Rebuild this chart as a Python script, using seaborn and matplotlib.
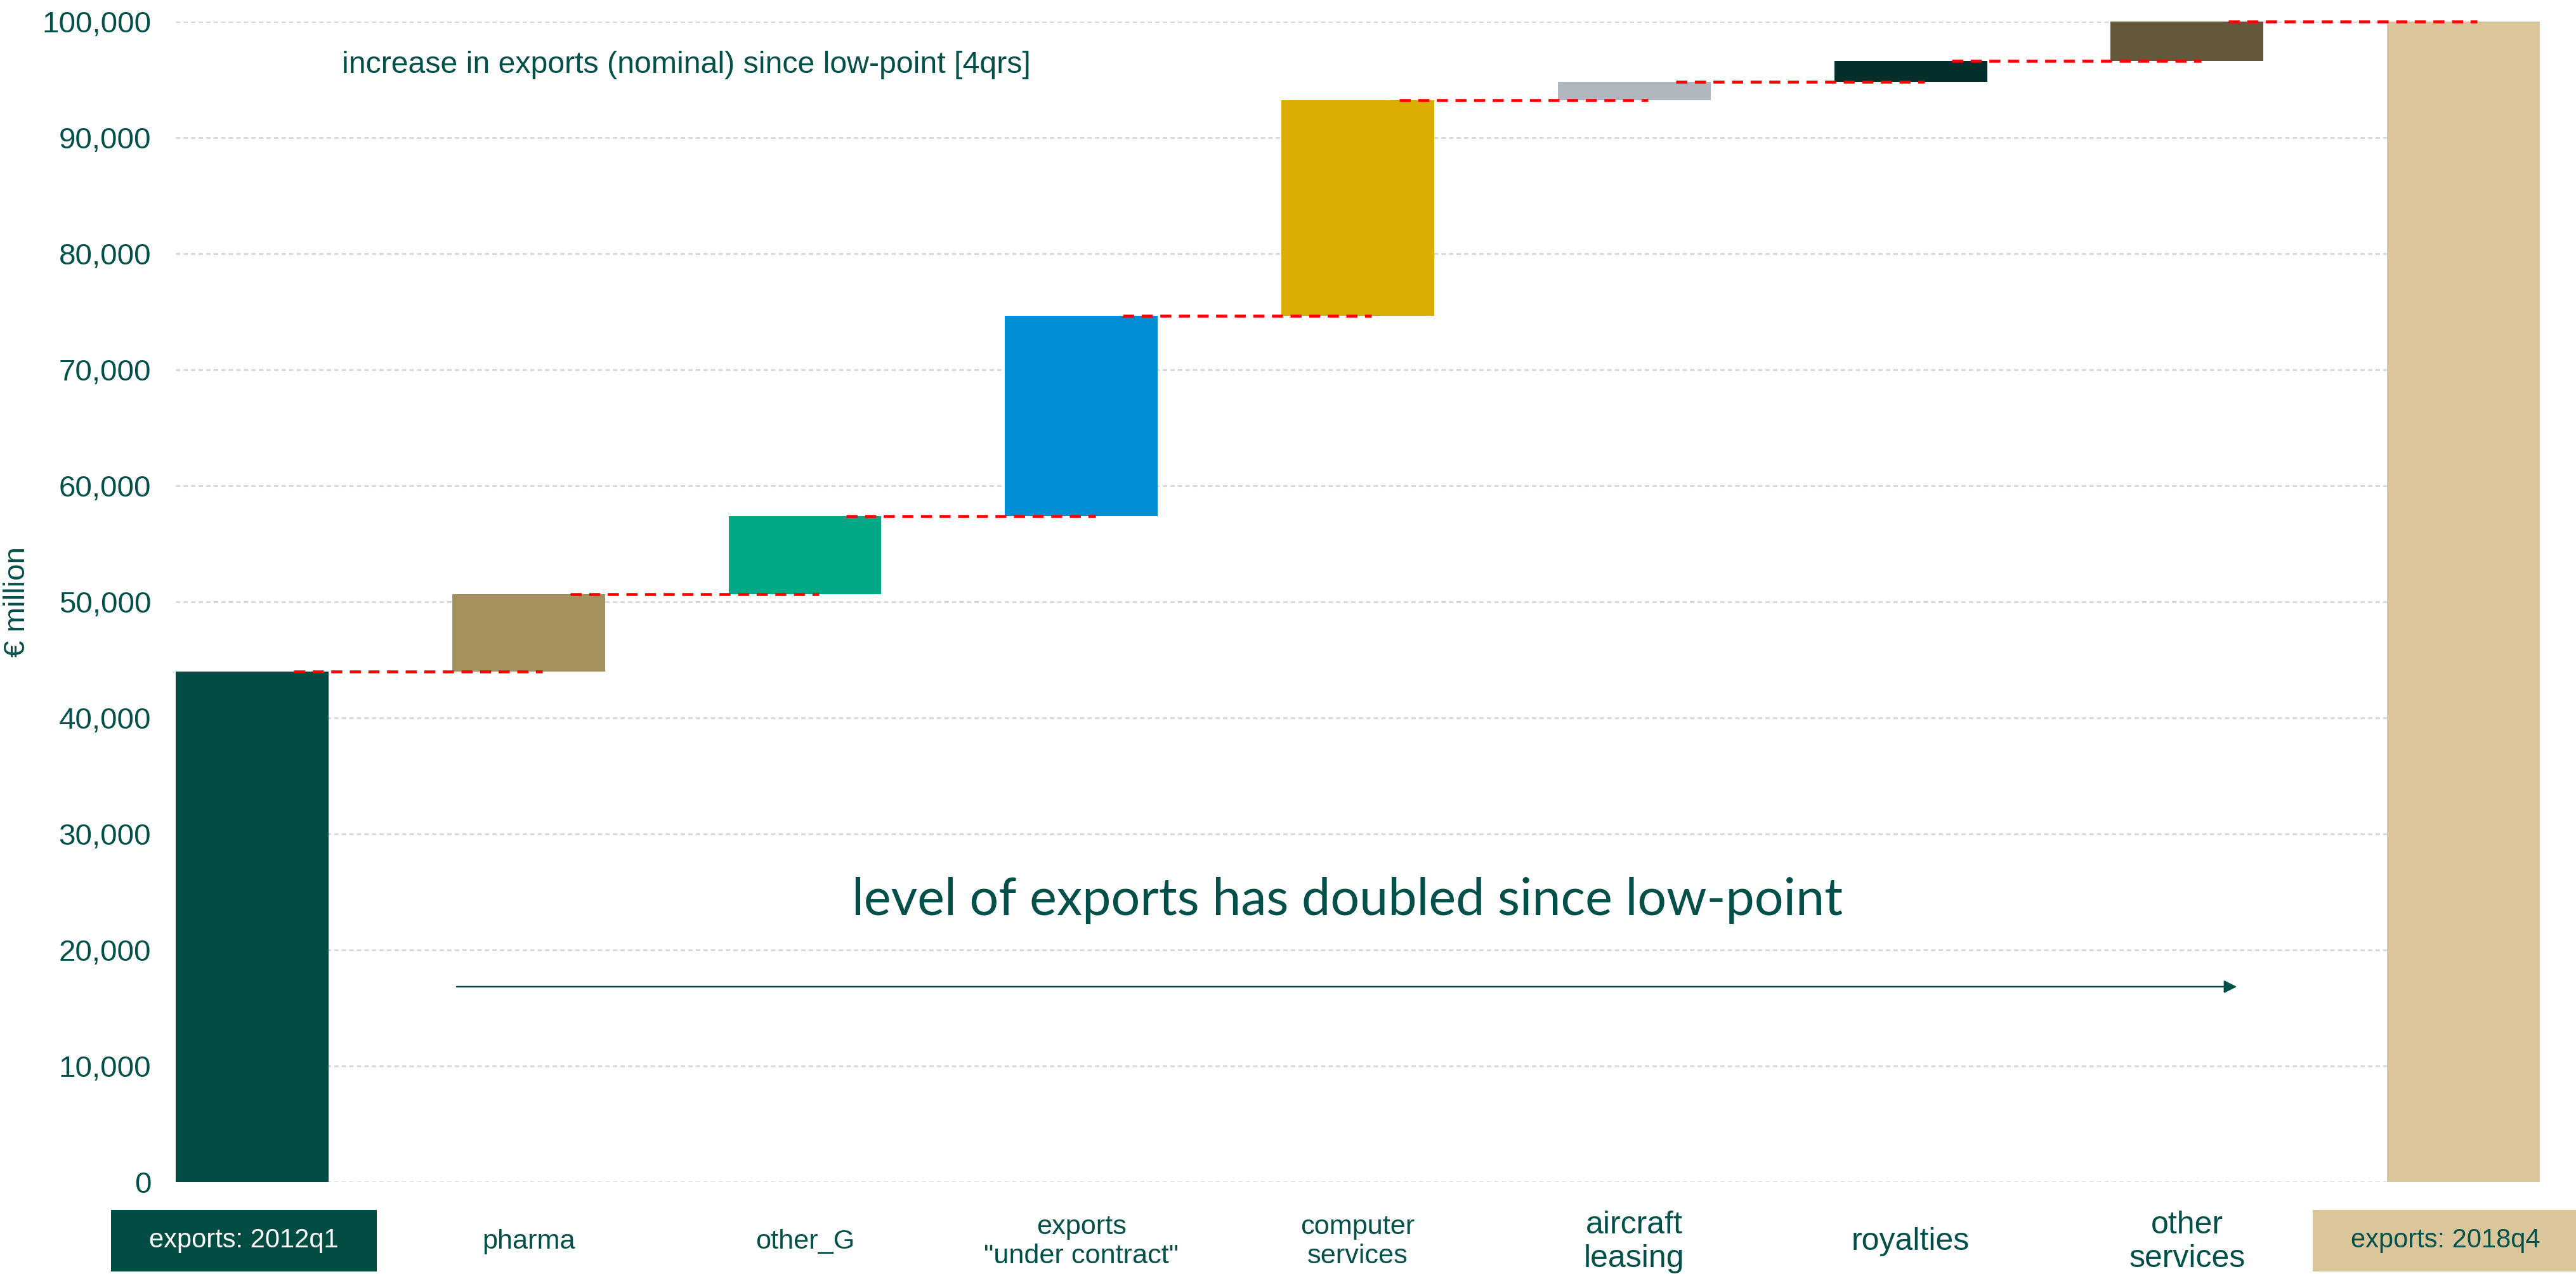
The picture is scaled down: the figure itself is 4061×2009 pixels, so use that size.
import numpy as np
import pandas as pd
import matplotlib
matplotlib.use("Agg")
import matplotlib.pyplot as plt
import matplotlib.transforms as mtransforms
from matplotlib.patches import Rectangle
from matplotlib.ticker import FuncFormatter, MultipleLocator
import seaborn as sns

# ---- data (EUR million) ----
categories = [
    "exports: 2012q1", "pharma", "other_G", 'exports\n"under contract"',
    "computer\nservices", "aircraft\nleasing", "royalties", "other\nservices",
    "exports: 2018q4",
]
start_level = 44000
increments = [6650, 6730, 17270, 18580, 1590, 1800, 3380]
end_level = 100000

bar_colors = [
    "#024D43", "#A5915E", "#02A886", "#008FD5", "#DBAD00",
    "#B0B6BD", "#032E2C", "#64583A", "#DAC69A",
]
text_green = "#03504A"
label_sizes = [10, 10.4, 10.4, 10.4, 10.4, 12, 12, 12, 10]

# bar heights and bottoms for the waterfall
levels = np.cumsum([start_level] + increments)
heights = [start_level] + increments + [end_level]
bottoms = [0] + list(levels[:-1]) + [0]
df = pd.DataFrame({"category": categories, "value": heights})

sns.set_theme(style="white")
plt.rcParams["font.family"] = ["Liberation Sans", "DejaVu Sans"]

fig = plt.figure(figsize=(4061 / 300, 2009 / 300), dpi=300)
ax = fig.add_axes([0.0682, 0.0722, 0.9178, 0.9109])

bar_w = 0.553
sns.barplot(data=df, x="category", y="value", hue="category",
            palette=bar_colors, legend=False, width=bar_w,
            saturation=1, ax=ax, zorder=2)
for patch, b in zip(ax.patches, bottoms):
    patch.set_y(b)
    patch.set_linewidth(0)

n = len(categories)
ax.set_xlim(-bar_w / 2, n - 1 + bar_w / 2)
ax.set_ylim(0, 100000)

# dashed red connectors between consecutive steps
for i, lvl in enumerate(levels):
    ax.plot([i + 0.15, i + 1.05], [lvl, lvl], color="#FF0000", lw=1.1,
            dashes=(3.8, 2.6), zorder=3, clip_on=False)

# y axis
ax.yaxis.set_major_locator(MultipleLocator(10000))
ax.yaxis.set_major_formatter(FuncFormatter(lambda v, _: f"{v:,.0f}"))
ax.tick_params(axis="y", length=0, pad=9.3, labelsize=11.4, labelcolor=text_green)
ax.grid(axis="y", color="#D9D9D9", lw=0.75, dashes=(2.2, 1.6), zorder=0)
ax.grid(axis="x", visible=False)
for s in ax.spines.values():
    s.set_visible(False)
ax.set_xlabel("")
ax.set_ylabel("€ million", fontsize=11.4, color=text_green, ha="center", va="center")
ax.yaxis.set_label_coords(-0.067, 0.5)

# x labels; the first and last sit inside coloured boxes
boxed = {0: (bar_colors[0], "white", -0.03),
         n - 1: (bar_colors[-1], text_green, -0.065)}
ax.set_xticks(range(n))
ax.set_xticklabels(["" if i in boxed else c for i, c in enumerate(categories)])
ax.tick_params(axis="x", length=0, pad=22.6, labelcolor=text_green)
for lab, fs in zip(ax.get_xticklabels(), label_sizes):
    lab.set_va("center")
    lab.set_linespacing(1.2)
    lab.set_fontsize(fs)

trans = mtransforms.blended_transform_factory(ax.transData, ax.transAxes)
box_w = 0.961
for idx, (face, tcol, shift) in boxed.items():
    cx = idx + shift
    ax.add_patch(Rectangle((cx - box_w / 2, -0.077), box_w, 0.053,
                           transform=trans, facecolor=face, edgecolor="none",
                           clip_on=False, zorder=0.2))
    ax.text(cx, -0.0505, categories[idx], transform=trans, ha="center",
            va="center", fontsize=label_sizes[idx], color=tcol, clip_on=False)

# annotations
ax.text(0.324, 95570, "increase in exports (nominal) since low-point [4qrs]",
        fontsize=11.6, color=text_green, ha="left", va="baseline")
ax.text(2.17, 23000, "level of exports has doubled since low-point",
        fontsize=19.4, color=text_green, ha="left", va="baseline",
        family=["Lato", "DejaVu Sans"])
ax.annotate("", xy=(7.18, 16830), xytext=(0.74, 16830),
            arrowprops=dict(arrowstyle="-|>", color=text_green, lw=0.6,
                            mutation_scale=10, shrinkA=0, shrinkB=0))

fig.savefig("out.png", dpi=300, facecolor="white")
